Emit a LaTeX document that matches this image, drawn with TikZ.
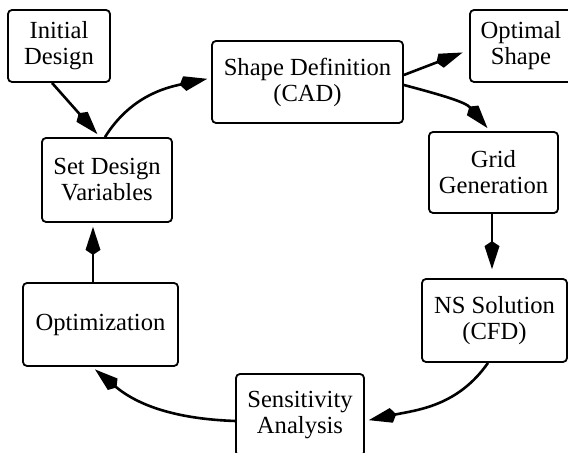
\documentclass[tikz,border=0pt]{standalone}
\usepackage{fontspec}
\setmainfont{Liberation Serif}
\newfontfamily\stagefont{Liberation Serif}
\usetikzlibrary{arrows.meta}

\begin{document}
\begin{tikzpicture}[x=0.5pt, y=0.5pt]

\tikzset{
    stage/.style={draw, line width=0.9pt, rounded corners=2pt, align=center,
        inner sep=0pt, font=\stagefont\fontsize{12.3pt}{13pt}\selectfont},
    flow/.style={line width=1.3pt, -{Kite[length=14pt, width=7.5pt, inset=2.5pt]},
        shorten >=2pt}
}

\useasboundingbox (0,0) rectangle (568,453);

%====================================================
% STAGES
%====================================================
\node[stage, minimum width=51pt, minimum height=36pt] (init) at (59,407) {Initial\\Design};
\node[stage, minimum width=65pt, minimum height=42pt] (setvar) at (107,273) {Set Design\\Variables};
\node[stage, minimum width=95.5pt, minimum height=41pt] (shape) at (307.5,371) {Shape Definition\\(CAD)};
\node[stage, minimum width=51pt, minimum height=36pt] (optimal) at (521,407) {Optimal\\Shape};
\node[stage, minimum width=64.5pt, minimum height=40.5pt] (grid) at (493.5,280.5) {Grid\\Generation};
\node[stage, minimum width=72.5pt, minimum height=41.5pt] (ns) at (494.5,132.5) {NS Solution\\(CFD)};
\node[stage, minimum width=64pt, minimum height=41pt] (sens) at (300,38) {Sensitivity\\Analysis};
\node[stage, minimum width=77.5pt, minimum height=41.5pt] (optim) at (100.5,128.5) {Optimization};

%====================================================
% CONNECTORS
%====================================================
\draw[flow] ([xshift=-3.5pt]init.south) -- ([xshift=-3.5pt]setvar.north);
\draw[flow] ([xshift=-1pt]setvar.north) to[out=58, in=192] ([yshift=2pt]shape.west);
\draw[flow, shorten >=3.5pt] ([yshift=3.5pt]shape.east) -- ([yshift=-2pt]optimal.west);
\draw[flow] ([yshift=-1.5pt]shape.east) to[out=-15, in=130] ([xshift=-1.75pt]grid.north);
\draw[flow, shorten >=4.5pt] ([xshift=-0.75pt]grid.south) -- ([xshift=-0.75pt]grid.south |- ns.north);
\draw[flow] ([xshift=-3.25pt]ns.south) to[out=235, in=12] ([yshift=-3pt]sens.east);
\draw[flow] ([yshift=-3pt]sens.west) to[out=178, in=-40] ([xshift=-4.25pt]optim.south);
\draw[flow] ([xshift=-3.75pt]optim.north) -- ([xshift=-3.75pt]optim.north |- setvar.south);

\end{tikzpicture}
\end{document}
